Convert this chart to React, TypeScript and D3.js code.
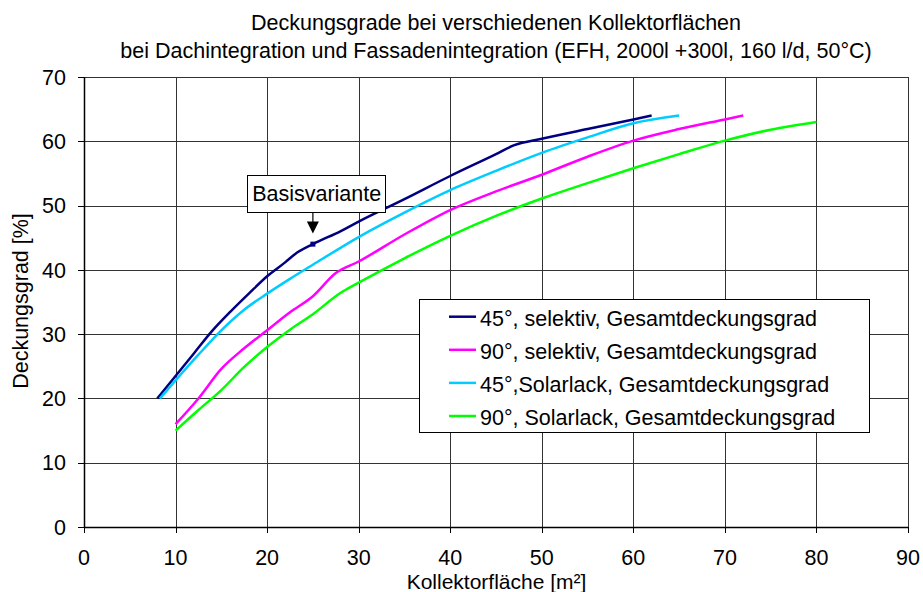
import React from "react";
import * as d3 from "d3";

const xTicks = [0, 10, 20, 30, 40, 50, 60, 70, 80, 90];
const yTicks = [0, 10, 20, 30, 40, 50, 60, 70];

const seriesNames = [
  "45°, selektiv, Gesamtdeckungsgrad",
  "90°, selektiv, Gesamtdeckungsgrad",
  "45°,Solarlack, Gesamtdeckungsgrad",
  "90°, Solarlack, Gesamtdeckungsgrad",
];
const seriesColors = ["#000080", "#FF00FF", "#00CCFF", "#00FF00"];

const navyX = [8, 10, 12, 14, 16, 18, 20, 22, 23, 25, 28, 30, 35, 40, 45, 47, 50, 55, 60, 62];
const navyY = [20, 23.5, 27, 30.5, 33.5, 36.3, 39, 41.2, 42.4, 44, 46, 47.5, 51, 54.6, 58, 59.4, 60.4, 61.9, 63.4, 64];

const magentaX = [10, 12.5, 15, 17.5, 20, 22.5, 25, 27.5, 30, 35, 40, 45, 50, 55, 60, 65, 70, 72];
const magentaY = [16, 20, 24.6, 27.8, 30.6, 33.4, 35.9, 39.5, 41.3, 45.5, 49.3, 52.2, 54.8, 57.6, 60.1, 61.9, 63.4, 64];

const cyanX = [8.3, 10, 12.5, 15, 17.5, 20, 22.5, 25, 30, 35, 40, 45, 50, 55, 60, 65];
const cyanY = [20, 22.8, 26.8, 30.6, 33.8, 36.3, 38.6, 40.8, 45.1, 48.9, 52.4, 55.4, 58.2, 60.6, 62.8, 64];

const greenX = [10, 12.5, 15, 17.5, 20, 22.5, 25, 28, 30, 35, 40, 45, 50, 55, 60, 65, 70, 75, 80];
const greenY = [15, 18.2, 21.3, 24.9, 28, 30.7, 33.1, 36.4, 38, 41.8, 45.3, 48.4, 51.1, 53.5, 55.8, 58, 60.1, 61.8, 63];

const seriesX = [navyX, magentaX, cyanX, greenX];
const seriesY = [navyY, magentaY, cyanY, greenY];

const baseX = 25;
const baseY = 44;

const W = 923;
const H = 592;
const left = 84;
const right = 908;
const top = 77;
const bottom = 527;
const font = "'Liberation Sans', Arial, sans-serif";
const fs = 21.5;

export default function App() {
  const x = d3.scaleLinear().domain([0, 90]).range([left, right]);
  const y = d3.scaleLinear().domain([0, 70]).range([bottom, top]);
  const line = d3
    .line<[number, number]>()
    .x((d) => x(d[0]))
    .y((d) => y(d[1]))
    .curve(d3.curveMonotoneX);

  const bx = x(baseX);
  const by = y(baseY);

  return (
    <svg
      width={W}
      height={H}
      style={{ position: "absolute", left: 0, top: 0, background: "#fff" }}
      fontFamily={font}
    >
      <rect x={0} y={0} width={W} height={H} fill="#fff" />
      <text x={496} y={30} textAnchor="middle" fontSize={fs}>
        Deckungsgrade bei verschiedenen Kollektorflächen
      </text>
      <text x={496} y={57.5} textAnchor="middle" fontSize={fs}>
        bei Dachintegration und Fassadenintegration (EFH, 2000l +300l, 160 l/d, 50°C)
      </text>

      {xTicks.map((t) => (
        <line
          key={"gx" + t}
          x1={Math.round(x(t)) + 0.5}
          x2={Math.round(x(t)) + 0.5}
          y1={top}
          y2={bottom}
          stroke="#333"
          strokeWidth={1}
        />
      ))}
      {yTicks.map((t) => (
        <line
          key={"gy" + t}
          x1={left}
          x2={right}
          y1={Math.round(y(t)) + 0.5}
          y2={Math.round(y(t)) + 0.5}
          stroke="#333"
          strokeWidth={1}
        />
      ))}

      {/* axes */}
      <line x1={left + 0.5} x2={left + 0.5} y1={top} y2={bottom + 1} stroke="#000" strokeWidth={1.5} />
      <line x1={left} x2={right} y1={bottom + 0.5} y2={bottom + 0.5} stroke="#000" strokeWidth={1.5} />
      {xTicks.map((t) => (
        <g key={"xt" + t}>
          <line
            x1={Math.round(x(t)) + 0.5}
            x2={Math.round(x(t)) + 0.5}
            y1={bottom}
            y2={bottom + 6}
            stroke="#000"
          />
          <text x={x(t)} y={565} textAnchor="middle" fontSize={fs}>
            {t}
          </text>
        </g>
      ))}
      {yTicks.map((t) => (
        <g key={"yt" + t}>
          <line
            x1={left - 6}
            x2={left}
            y1={Math.round(y(t)) + 0.5}
            y2={Math.round(y(t)) + 0.5}
            stroke="#000"
          />
          <text x={66} y={y(t) + 7.7} textAnchor="end" fontSize={fs}>
            {t}
          </text>
        </g>
      ))}

      <text x={496.5} y={589} textAnchor="middle" fontSize={21}>
        Kollektorfläche [m²]
      </text>
      <text
        transform={`translate(28, 301) rotate(-90)`}
        textAnchor="middle"
        fontSize={fs}
      >
        Deckungsgrad [%]
      </text>

      {/* series */}
      {seriesX.map((xs, i) => (
        <path
          key={"s" + i}
          d={line(xs.map((v, j) => [v, seriesY[i][j]] as [number, number])) || ""}
          fill="none"
          stroke={seriesColors[i]}
          strokeWidth={2.5}
          strokeLinejoin="round"
        />
      ))}

      {/* Basisvariante marker */}
      <rect x={bx - 2.5} y={by - 2.5} width={5} height={5} fill="#000080" />
      <rect x={247.5} y={175.5} width={138} height={37} fill="#fff" stroke="#000" strokeWidth={1} />
      <text x={316.7} y={200.7} textAnchor="middle" fontSize={fs}>
        Basisvariante
      </text>
      <line x1={bx} x2={bx} y1={212} y2={223} stroke="#000" strokeWidth={1.2} />
      <path d={`M${bx - 6},${221.5} L${bx + 6},${221.5} L${bx},${233.5} Z`} fill="#000" />

      {/* legend */}
      <rect x={419.5} y={299.5} width={450} height={133} fill="#fff" stroke="#000" strokeWidth={1} />
      {seriesNames.map((n, i) => (
        <g key={"l" + i}>
          <line
            x1={449}
            x2={476}
            y1={316.7 + i * 33.1}
            y2={316.7 + i * 33.1}
            stroke={seriesColors[i]}
            strokeWidth={2.5}
          />
          <text x={480} y={316.7 + i * 33.1 + 9} fontSize={fs}>
            {n}
          </text>
        </g>
      ))}
    </svg>
  );
}
